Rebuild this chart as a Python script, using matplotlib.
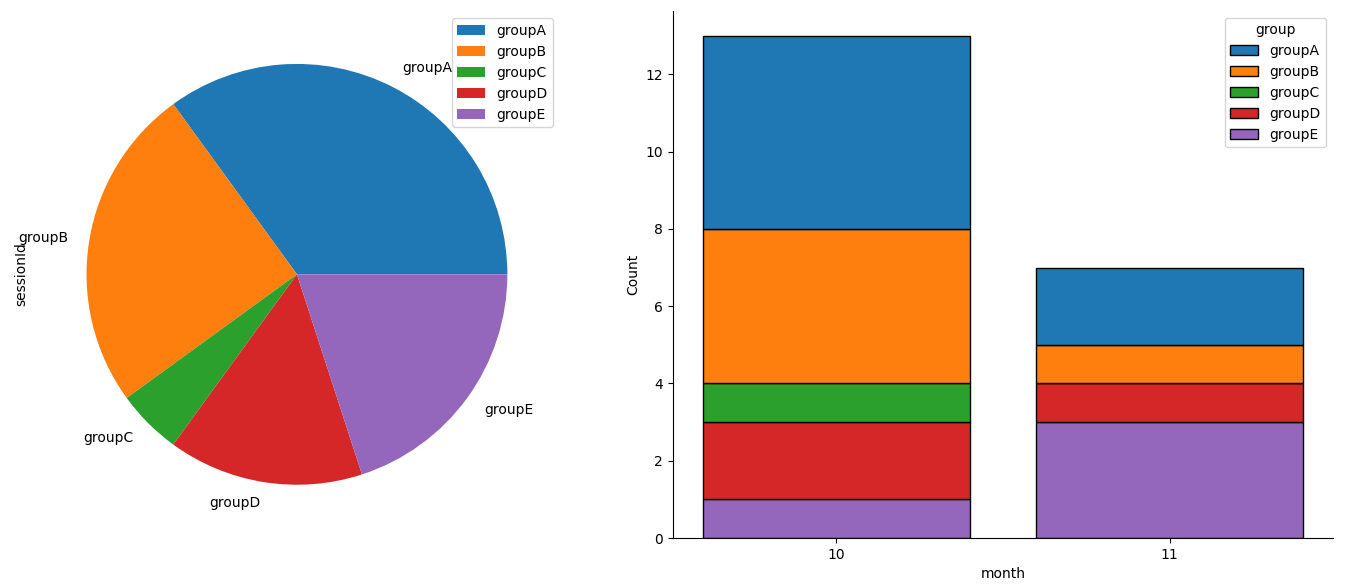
import numpy as np
import matplotlib
matplotlib.use('Agg')
import matplotlib.pyplot as plt

groups = ['groupA', 'groupB', 'groupC', 'groupD', 'groupE']
colors = ['#1f77b4', '#ff7f0e', '#2ca02c', '#d62728', '#9467bd']
months = [10, 11]
counts_10 = [5, 4, 1, 2, 1]
counts_11 = [2, 1, 0, 1, 3]

totals = [a + b for a, b in zip(counts_10, counts_11)]

fig = plt.figure(figsize=(13.47, 5.85), dpi=100)

# pie of sessions per group
ax1 = fig.add_axes([0.0252, 0.0803, 0.3905, 0.9015])
ax1.pie(totals, labels=groups, colors=colors)
ax1.set_ylabel('sessionId')
ax1.legend(loc='upper right')

# stacked counts per month
ax2 = fig.add_axes([0.4996, 0.0803, 0.49, 0.9015])
bottom = np.zeros(len(months))
handles = {}
for g, c, v10, v11 in reversed(list(zip(groups, colors, counts_10, counts_11))):
    vals = np.array([v10, v11])
    h = ax2.bar(months, vals, width=0.8, bottom=bottom, color=c,
                edgecolor='black', linewidth=1, label=g)
    handles[g] = h
    bottom += vals
ax2.set_xticks(months)
ax2.set_xlabel('month')
ax2.set_ylabel('Count')
ax2.spines['top'].set_visible(False)
ax2.spines['right'].set_visible(False)
ax2.legend([handles[g] for g in groups], groups, title='group', loc='upper right')

fig.savefig('out.png', dpi=100)
